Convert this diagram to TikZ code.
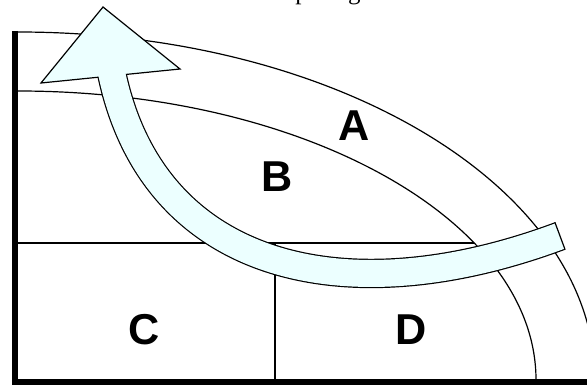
\documentclass[tikz,border=0pt]{standalone}
\usepackage{fontspec}
\setmainfont{Liberation Serif}
\setsansfont{Liberation Sans}
\usetikzlibrary{calc}
\definecolor{bandcyan}{RGB}{236,255,255}
\tikzset{every picture/.style={line width=0.6pt}}
\tikzset{
  zone/.style={font=\sffamily\bfseries\fontsize{21.6}{26}\selectfont, inner sep=0pt},
  frame/.style={line width=3pt},
}

\begin{document}
\begin{tikzpicture}[x=0.5pt, y=-0.5pt]
    \useasboundingbox (0,0) rectangle (587,385);
    % titre (coupé en haut)
    \begin{scope}
    \clip (0,0) rectangle (587,385);
    \node[overlay, anchor=base west, inner sep=0pt, font=\fontsize{12.5}{14}\selectfont] (titre) at (8,-0.5) {Évolution de a curva de compostage};
    \end{scope}
    % courbes
    \draw (18,32) arc[start angle=-90, end angle=0, x radius=577, y radius=348];
    \draw (18,91) arc[start angle=-90, end angle=0, x radius=518, y radius=289];
    % quadrillage
    \draw[line width=0.65pt] (18,243) -- (474,243);
    \draw[line width=0.65pt] (275,243) -- (275,380);
    % axes
    \draw[frame] (15,31) -- (15,382) -- (587,382);
    % flèche
    \coordinate (tail) at (560,236);
    \coordinate (c1) at (344,316.5);
    \coordinate (c2) at (151,270);
    \coordinate (head) at (111,70);
    \draw[line width=14.7pt] (tail) .. controls (c1) and (c2) .. (head);
    \filldraw[fill=bandcyan, line join=miter] (103,7) -- (41,83) -- (180,69) -- cycle;
    \draw[bandcyan, line width=13.5pt] (tail) .. controls (c1) and (c2) .. (head);
    \draw ($(tail)!7.35pt!90:(c1)$) -- ($(tail)!7.35pt!-90:(c1)$);
    % zones
    \node[zone] (A) at (354,126) {A};
    \node[zone] (B) at (277,177) {B};
    \node[zone] (C) at (144,330) {C};
    \node[zone] (D) at (411,330) {D};
\end{tikzpicture}
\end{document}
